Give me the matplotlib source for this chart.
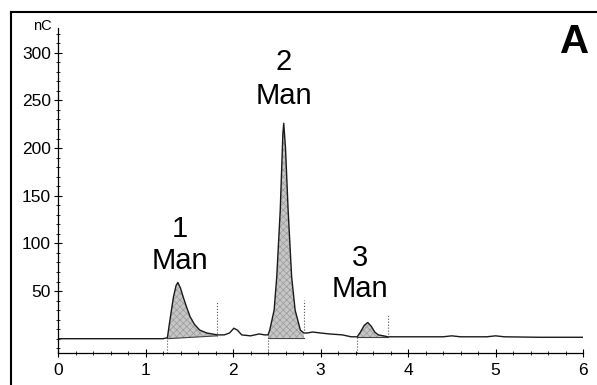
import matplotlib
matplotlib.use("Agg")
import matplotlib.pyplot as plt
from matplotlib.ticker import FixedLocator, MultipleLocator
from matplotlib.lines import Line2D
import numpy as np

plt.rcParams['font.family'] = ['Liberation Sans', 'DejaVu Sans']
plt.rcParams['hatch.linewidth'] = 0.5

# chromatogram trace (time in min, signal in nC)
time = [0.0, 1.20, 1.25, 1.28, 1.32, 1.35, 1.37, 1.40, 1.43, 1.47, 1.51, 1.56,
        1.62, 1.70, 1.82, 1.90, 1.96, 2.01, 2.05, 2.10, 2.20, 2.30, 2.36, 2.40,
        2.42, 2.47, 2.50, 2.54, 2.57, 2.58, 2.60, 2.63, 2.67, 2.71, 2.77, 2.81,
        2.85, 2.91, 3.00, 3.10, 3.25, 3.35, 3.42, 3.45, 3.50, 3.54, 3.58, 3.62,
        3.66, 3.72, 3.77, 3.90, 4.20, 4.40, 4.50, 4.60, 4.90, 5.00, 5.10, 5.50, 6.0]
signal = [0, 0, 1, 20, 44, 56, 59, 53, 44, 33, 23, 15,
          9, 6, 4, 4, 6, 11, 9, 4, 3, 5, 4, 4,
          9, 30, 65, 135, 215, 226, 200, 135, 65, 30, 9, 6,
          6, 7, 6, 5, 4, 2, 2, 6, 14, 17, 13, 7,
          4, 3, 2, 2, 2, 2, 3, 2, 2, 3, 2, 1.5, 1.5]

# integrated peaks
peak_start = [1.25, 2.40, 3.42]
peak_end = [1.82, 2.81, 3.77]
base_start = [0.0, 1.0, 1.5]
base_end = [3.0, 1.0, 1.5]
peak_num = ["1", "2", "3"]
peak_name = ["Man", "Man", "Man"]
label_x = [1.39, 2.58, 3.45]
num_y = [115, 290, 85]
name_y = [82, 255, 52]

# dotted peak boundary markers (time, from, to)
mark_t = [1.25, 1.82, 2.40, 2.81, 3.42, 3.77]
mark_lo = [-15, 3, -15, 6, -15, 1.5]
mark_hi = [0, 38, 4, 41, 2, 25]

yticks_major = [50, 100, 150, 200, 250, 300]
xticks_major = [0, 1, 2, 3, 4, 5, 6]

fig = plt.figure(figsize=(5.97, 3.85), dpi=100)
ax = fig.add_axes([58 / 597, 32 / 385, 525 / 597, 325 / 385])

t = np.array(time)
s = np.array(signal)

for ps, pe, bs, be in zip(peak_start, peak_end, base_start, base_end):
    m = (t >= ps) & (t <= pe)
    tt = t[m]
    base = np.interp(tt, [ps, pe], [bs, be])
    ax.fill_between(tt, base, s[m], facecolor='#c6c6c6', hatch='xxxxx',
                    edgecolor='#9a9a9a', linewidth=0)
    ax.plot([ps, pe], [bs, be], color='#444444', lw=0.8)

ax.plot(t, s, color='#1a1a1a', lw=1.0)

for mt, lo, hi in zip(mark_t, mark_lo, mark_hi):
    ax.plot([mt, mt], [lo, hi], color='#555555', lw=0.8, ls=':', clip_on=False)

for lx, ny, my, num, name in zip(label_x, num_y, name_y, peak_num, peak_name):
    ax.text(lx, ny, num, ha='center', va='center', fontsize=21)
    ax.text(lx, my, name, ha='center', va='center', fontsize=21)

ax.set_xlim(0, 6)
ax.set_ylim(-15, 326)
ax.spines['top'].set_visible(False)
ax.spines['right'].set_visible(False)
ax.spines['left'].set_linewidth(0.9)
ax.spines['bottom'].set_linewidth(0.9)

ax.yaxis.set_major_locator(FixedLocator(yticks_major))
ax.yaxis.set_minor_locator(FixedLocator(list(range(-10, 321, 10))))
ax.xaxis.set_major_locator(FixedLocator(xticks_major))
ax.xaxis.set_minor_locator(MultipleLocator(0.2))
ax.set_yticklabels([str(v) for v in yticks_major])
ax.set_xticklabels([str(v) for v in xticks_major])
ax.tick_params(axis='both', which='major', direction='inout', length=6,
               width=0.8, labelsize=12.5, pad=2)
ax.tick_params(axis='both', which='minor', direction='inout', length=3, width=0.6)
ax.tick_params(axis='x', which='major', pad=4)

fig.text(52 / 597, 1 - 26 / 385, "nC", ha='right', va='center', fontsize=10.5)
fig.text(575 / 597, 1 - 42 / 385, "A", ha='center', va='center',
         fontsize=29, fontweight='bold')

fig.add_artist(Line2D([10.5 / 597, 10.5 / 597], [0, 1 - 12 / 385],
                      transform=fig.transFigure, color='black', lw=1.5))
fig.add_artist(Line2D([10.5 / 597, 1], [1 - 12 / 385, 1 - 12 / 385],
                      transform=fig.transFigure, color='black', lw=1.5))

fig.savefig("out.png", dpi=100)
